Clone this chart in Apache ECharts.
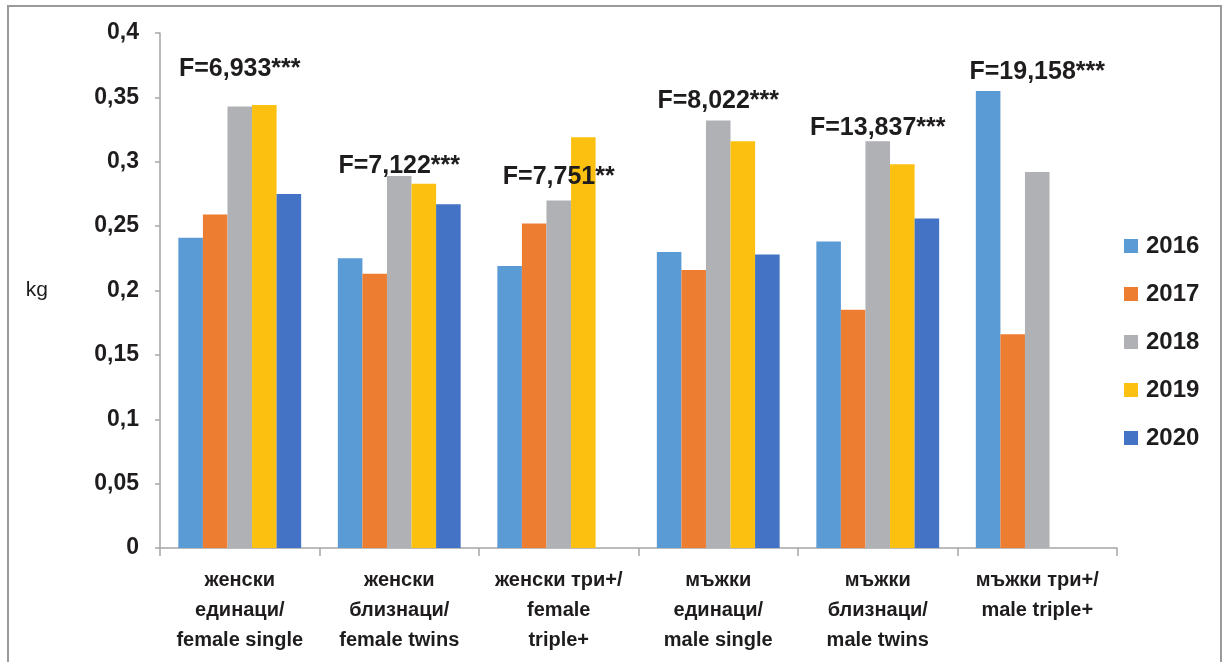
<!DOCTYPE html>
<html>
<head>
<meta charset="utf-8">
<script src="https://cdn.jsdelivr.net/npm/echarts@6/dist/echarts.min.js"></script>
<style>
html,body{margin:0;padding:0;background:#fff;}
#c{width:1223px;height:662px;}
</style>
</head>
<body>
<div id="c"></div>
<script>
const categories = [
  "женски\nединаци/\nfemale single",
  "женски\nблизнаци/\nfemale twins",
  "женски три+/\nfemale\ntriple+",
  "мъжки\nединаци/\nmale single",
  "мъжки\nблизнаци/\nmale twins",
  "мъжки три+/\nmale triple+"
];
const years = ["2016", "2017", "2018", "2019", "2020"];
const v2016 = [0.241, 0.225, 0.219, 0.230, 0.238, 0.355];
const v2017 = [0.259, 0.213, 0.252, 0.216, 0.185, 0.166];
const v2018 = [0.343, 0.289, 0.270, 0.332, 0.316, 0.292];
const v2019 = [0.344, 0.283, 0.319, 0.316, 0.298, null];
const v2020 = [0.275, 0.267, null, 0.228, 0.256, null];
const fLabels = ["F=6,933***", "F=7,122***", "F=7,751**", "F=8,022***", "F=13,837***", "F=19,158***"];
const fLabelY = [0.372, 0.297, 0.288, 0.347, 0.326, 0.370];
const yTicks = { min: 0, max: 0.4, interval: 0.05 };

const colors = ["#5B9BD5", "#ED7D31", "#B0B1B4", "#FCC010", "#4472C4"];
const seriesValues = [v2016, v2017, v2018, v2019, v2020];
const FONT = '"Liberation Sans", Arial, sans-serif';
const TXT = '#1f1c1d';

const barSeries = years.map((y, i) => ({
  name: y,
  type: 'bar',
  data: seriesValues[i],
  barGap: '0%',
  barCategoryGap: '23%',
  itemStyle: { color: colors[i] }
}));

const labelSeries = {
  name: 'F',
  type: 'scatter',
  data: fLabelY.map((v, i) => [i, v]),
  symbolSize: 0,
  silent: true,
  z: 10,
  itemStyle: { color: TXT, opacity: 1 },
  label: {
    show: true,
    position: 'inside',
    formatter: p => fLabels[p.dataIndex],
    fontFamily: FONT,
    fontWeight: 'bold',
    fontSize: 25,
    color: TXT,
    opacity: 1,
    textBorderWidth: 0
  }
};

const chart = echarts.init(document.getElementById('c'));
chart.setOption({
  animation: false,
  backgroundColor: '#fff',
  textStyle: { fontFamily: FONT },
  graphic: [{
    type: 'rect',
    shape: { x: 8, y: 6, width: 1213, height: 700 },
    style: { fill: 'none', stroke: '#9a9a9a', lineWidth: 2 },
    silent: true
  }],
  grid: { left: 160, right: 106, top: 33, bottom: 114 },
  legend: {
    data: years,
    orient: 'vertical',
    left: 1124,
    top: 234,
    padding: 0,
    icon: 'rect',
    itemWidth: 14,
    itemHeight: 14,
    itemGap: 24,
    textStyle: { fontFamily: FONT, fontWeight: 'bold', fontSize: 24, color: TXT, lineHeight: 24, padding: [0, 0, 0, 3] }
  },
  xAxis: {
    type: 'category',
    data: categories,
    axisLine: { lineStyle: { color: '#a6a6a6', width: 1.5 } },
    axisTick: { show: true, alignWithLabel: false, length: 8, lineStyle: { color: '#a6a6a6', width: 1.5 } },
    axisLabel: {
      interval: 0,
      margin: 17,
      fontFamily: FONT,
      fontWeight: 'bold',
      fontSize: 20,
      lineHeight: 30,
      color: TXT
    }
  },
  yAxis: {
    type: 'value',
    min: yTicks.min,
    max: yTicks.max,
    interval: yTicks.interval,
    name: 'kg',
    nameLocation: 'middle',
    nameRotate: 0,
    nameGap: 112,
    nameTextStyle: { fontFamily: FONT, fontSize: 21, color: TXT, padding: [0, 0, 8, 0] },
    axisLine: { show: true, lineStyle: { color: '#a6a6a6', width: 1.5 } },
    axisTick: { show: true, length: 5, lineStyle: { color: '#a6a6a6', width: 1.5 } },
    splitLine: { show: false },
    axisLabel: {
      margin: 21,
      fontFamily: FONT,
      fontWeight: 'bold',
      fontSize: 23,
      color: TXT,
      formatter: v => String(Math.round(v * 100) / 100).replace('.', ',')
    }
  },
  series: barSeries.concat([labelSeries])
});
</script>
</body>
</html>
